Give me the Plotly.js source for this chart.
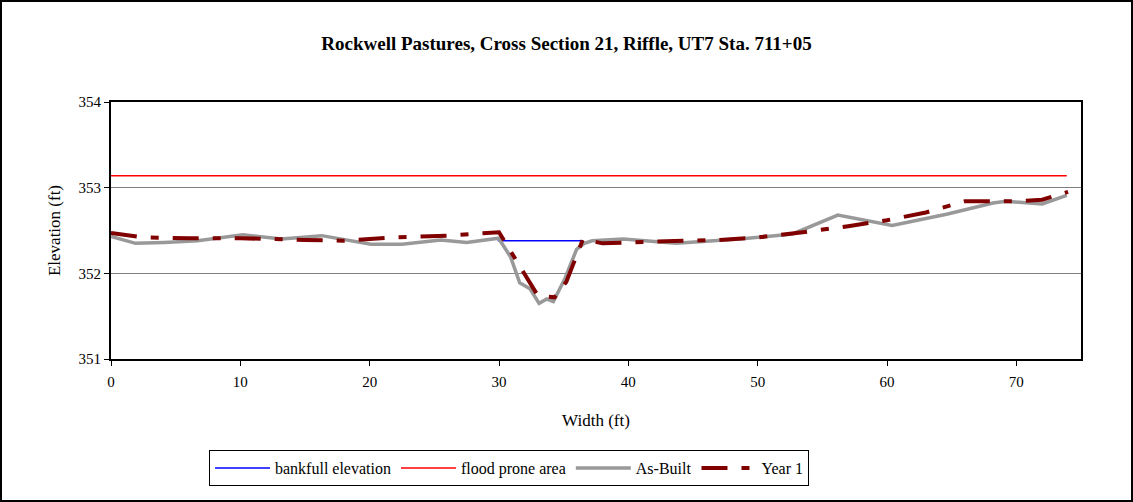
<!DOCTYPE html>
<html>
<head>
<meta charset="utf-8">
<script src="https://cdn.plot.ly/plotly-3.0.1.min.js"></script>
<style>
html,body{margin:0;padding:0;background:#fff;}
#frame{position:absolute;left:0;top:0;width:1133px;height:502px;box-sizing:border-box;border:2px solid #000;}
#chart{width:1129px;height:498px;}
</style>
</head>
<body>
<div id="frame"><div id="chart"></div></div>
<script>
// Bankfull elevation
const bankfullX = [29.9, 36.5];
const bankfullY = [352.38, 352.38];
// Flood prone area
const floodX = [0, 73.9];
const floodY = [353.14, 353.14];
// As-Built survey
const asBuiltX = [0, 1.9, 4.1, 6.7, 10.2, 13.2, 16.3, 20.1, 22.5, 25.5, 27.5, 29.97, 30.9, 31.6, 32.4, 33.1, 33.7, 34.2, 35.1, 36.0, 36.6, 37.2, 39.6, 43.7, 48.6, 52.7, 56.2, 60.4, 64.6, 68.2, 69.2, 72.0, 73.9];
const asBuiltY = [352.43, 352.35, 352.36, 352.38, 352.45, 352.40, 352.44, 352.34, 352.34, 352.39, 352.36, 352.41, 352.19, 351.89, 351.82, 351.65, 351.70, 351.67, 351.94, 352.28, 352.35, 352.38, 352.40, 352.35, 352.40, 352.46, 352.68, 352.56, 352.69, 352.82, 352.84, 352.81, 352.91];
// Year 1 survey
const year1X = [0, 2.5, 6, 10, 15, 18, 22, 26, 30, 31.5, 33, 34.3, 35.2, 36.5, 38, 42, 47, 50, 53, 57, 60, 63, 66, 70, 72, 74];
const year1Y = [352.47, 352.42, 352.41, 352.41, 352.39, 352.38, 352.42, 352.44, 352.48, 352.10, 351.74, 351.72, 351.90, 352.40, 352.35, 352.37, 352.39, 352.42, 352.47, 352.55, 352.62, 352.71, 352.84, 352.84, 352.86, 352.95];
// Axis ticks
const xTicks = [0, 10, 20, 30, 40, 50, 60, 70];
const yTicks = [351, 352, 353, 354];

const font = 'Liberation Serif, Times New Roman, serif';

const traces = [
  {x: bankfullX, y: bankfullY, name: 'bankfull elevation', mode: 'lines', line: {color: '#0000ff', width: 1.5}},
  {x: floodX, y: floodY, name: 'flood prone area', mode: 'lines', line: {color: '#ff0000', width: 1.5}},
  {x: asBuiltX, y: asBuiltY, name: 'As-Built', mode: 'lines', line: {color: '#999999', width: 3.5}},
  {x: year1X, y: year1Y, name: 'Year 1', mode: 'lines', line: {color: '#800000', width: 4, dash: '26px,14px,8px,14px'}}
];

const layout = {
  width: 1129, height: 498,
  margin: {l: 109, r: 50, t: 100, b: 141},
  paper_bgcolor: '#fff', plot_bgcolor: '#fff',
  font: {family: font, size: 15, color: '#000'},
  showlegend: true,
  title: {text: '<b>Rockwell Pastures, Cross Section 21, Riffle, UT7 Sta. 711+05</b>', font: {family: font, size: 19, color: '#000'}, x: 0.5, xref: 'container', y: 1 - 41/498, yref: 'container', yanchor: 'middle'},
  xaxis: {
    range: [0, 75], tickvals: xTicks, ticktext: xTicks.map(String),
    showgrid: false, zeroline: false,
    showline: true, mirror: true, linecolor: '#000', linewidth: 2,
    ticks: 'outside', ticklen: 5, tickcolor: '#000', tickwidth: 1,
    ticklabelstandoff: 3,
    tickfont: {family: font, size: 15},
    title: {text: 'Width (ft)', font: {family: font, size: 17}, standoff: 25}
  },
  yaxis: {
    range: [351, 354], tickvals: yTicks, ticktext: yTicks.map(String),
    showgrid: true, gridcolor: '#808080', gridwidth: 1, zeroline: false,
    showline: true, mirror: true, linecolor: '#000', linewidth: 2,
    ticks: 'outside', ticklen: 5, tickcolor: '#000', tickwidth: 1,
    tickfont: {family: font, size: 15},
    title: {text: 'Elevation (ft)', font: {family: font, size: 17}, standoff: 14}
  },
  legend: {
    orientation: 'h', x: (209 - 2 - 109) / 970, xanchor: 'left', y: -(448 - 357) / 257, yanchor: 'top',
    bordercolor: '#000', borderwidth: 1, bgcolor: '#fff',
    font: {family: font, size: 16}, itemwidth: 55, tracegroupgap: 0
  }
};

Plotly.newPlot('chart', traces, layout, {displayModeBar: false, staticPlot: true});
</script>
</body>
</html>
